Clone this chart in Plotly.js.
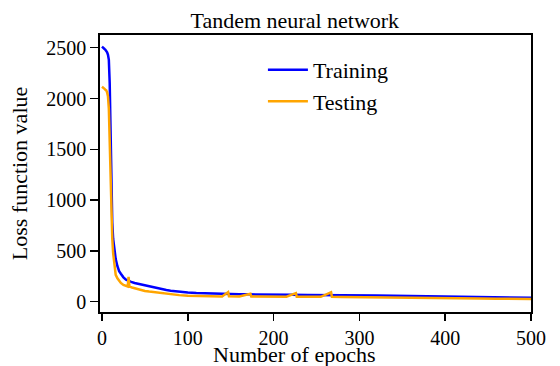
<!DOCTYPE html>
<html>
<head>
<meta charset="utf-8">
<script src="https://cdn.plot.ly/plotly-3.0.1.min.js"></script>
<style>
html,body{margin:0;padding:0;background:#fff;font-family:"Liberation Serif",serif;}
#chart{width:560px;height:366px;}
#chart svg text{font-family:"Liberation Serif",serif !important;}
</style>
</head>
<body>
<div id="chart"></div>
<script>
const trainEpochs = [0,1,2,3,4,5,6,7,8,9,10,11,12,13,14,15,16,18,20,22,25,28,31,34,38,42,46,50,55,60,65,70,75,80,90,100,110,120,130,140,150,160,170,180,190,200,220,240,260,280,300,320,340,360,380,400,420,440,460,480,500];
const trainLoss = [2510,2505,2495,2487,2480,2470,2455,2430,2380,2150,1600,1000,780,620,540,470,420,350,300,275,240,218,205,196,184,176,168,162,150,141,131,123,115,109,99,92,87,83,81,78,77,74,73,71,70,69,68,67,67,66,65,62,59,56,52,49,47,45,43,41,39];
const testEpochs = [0,1,2,3,4,5,6,7,8,9,10,11,12,13,14,15,16,18,20,22,25,28,30,31,32,35,38,42,46,50,55,60,65,70,75,80,90,100,110,120,130,140,147,148,160,173,174,190,200,215,226,227,240,255,267,268,280,300,320,340,360,380,400,420,440,460,480,500];
const testLoss = [2115,2110,2100,2095,2085,2080,2060,2020,1900,1500,1100,850,620,480,380,300,265,230,200,185,165,152,150,245,150,140,132,125,118,106,100,94,88,82,77,72,65,59,56,54,53,52,95,53,52,78,51,51,50,50,85,50,49,48,92,48,47,46,44,43,41,38,36,34,32,30,28,26];
const seriesNames = ['Training','Testing'];
const xTicks = [0,100,200,300,400,500];
const yTicks = [0,500,1000,1500,2000,2500];
const titleText = 'Tandem neural network';
const xTitle = 'Number of epochs';
const yTitle = 'Loss function value';

function draw() {
  const traces = [
    {x: trainEpochs, y: trainLoss, name: seriesNames[0], legendgroup: 'a', type: 'scatter', mode: 'lines',
     line: {color: '#0000ff', width: 2.5}},
    {x: testEpochs, y: testLoss, name: seriesNames[1], legendgroup: 'b', type: 'scatter', mode: 'lines',
     line: {color: '#ffa500', width: 2.5}}
  ];
  const font = 'Liberation Serif';
  const layout = {
    width: 560, height: 366,
    margin: {l: 100, r: 29, t: 35, b: 54},
    paper_bgcolor: '#fff', plot_bgcolor: '#fff',
    font: {family: font, color: '#000', size: 20},
    title: {text: titleText, font: {family: font, size: 22, color: '#000'},
            x: 0.452, xref: 'paper', xanchor: 'center', y: 0.945, yref: 'container', yanchor: 'middle'},
    showlegend: true,
    legend: {x: 0.378, y: 0.95, xanchor: 'left', yanchor: 'top', bgcolor: 'rgba(0,0,0,0)',
             traceorder: 'grouped', tracegroupgap: 0, itemwidth: 40,
             font: {family: font, size: 22, color: '#000'}},
    xaxis: {range: [-2.3, 500], tickvals: xTicks, ticks: 'outside', ticklen: 7, tickwidth: 1.5,
            tickcolor: '#000', showline: true, linecolor: '#000', linewidth: 1.8, mirror: true,
            showgrid: false, zeroline: false, tickfont: {family: font, size: 20, color: '#000'}},
    yaxis: {range: [-101, 2625], tickvals: yTicks, ticks: 'outside', ticklen: 8, tickwidth: 1.5,
            tickcolor: '#000', showline: true, linecolor: '#000', linewidth: 1.8, mirror: true,
            showgrid: false, zeroline: false, tickfont: {family: font, size: 20, color: '#000'},
            title: {text: yTitle, font: {family: font, size: 22, color: '#000'}, standoff: 12}},
    annotations: [
      {text: xTitle, xref: 'paper', yref: 'paper', x: 0.452, y: -0.152, xanchor: 'center', yanchor: 'middle',
       showarrow: false, font: {family: font, size: 22, color: '#000'}}
    ]
  };
  Plotly.newPlot('chart', traces, layout, {displayModeBar: false, staticPlot: true});
}
if (document.fonts && document.fonts.load) {
  document.fonts.load('20px "Liberation Serif"').then(draw, draw);
} else { draw(); }
</script>
</body>
</html>
